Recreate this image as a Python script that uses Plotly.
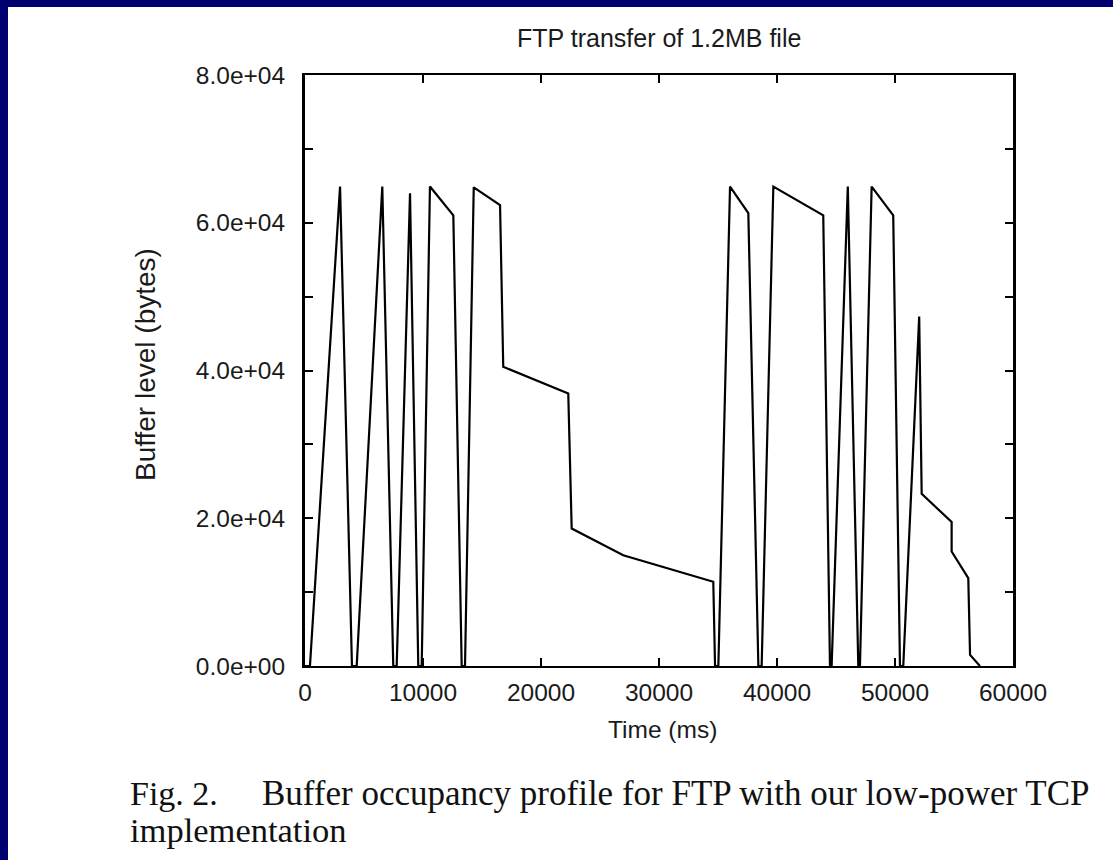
import plotly.graph_objects as go

# ---- data ----
time_ms = [0, 420, 2970, 3980, 4380, 6550, 7480,
           7770, 8900, 9600,
           9890, 10590, 12570, 13280,
           13560, 14300, 16530, 16800, 22310, 22600, 26970, 34600, 34750,
           35030, 36020, 37570, 38420,
           38700, 39690, 43920, 44490,
           44630, 46000, 46890,
           47030, 48020, 49850, 50420,
           50700, 52050, 52260, 54800, 54800, 56210, 56360, 57200]
buffer_bytes = [0, 0, 64900, 0, 0, 64900, 0,
                0, 64000, 0,
                0, 64900, 61000, 0,
                0, 64800, 62400, 40500, 36900, 18600, 15000, 11400, 0,
                0, 64900, 61300, 0,
                0, 64900, 61000, 0,
                0, 64900, 0,
                0, 64900, 61000, 0,
                0, 47300, 23300, 19500, 15500, 11900, 1500, 0]

x_tickvals = [0, 10000, 20000, 30000, 40000, 50000, 60000]
x_ticktext = ["0", "10000", "20000", "30000", "40000", "50000", "60000"]
y_tickvals = [0, 10000, 20000, 30000, 40000, 50000, 60000, 70000, 80000]
y_ticktext = ["0.0e+00", "", "2.0e+04", "", "4.0e+04", "", "6.0e+04", "", "8.0e+04"]

title_text = "FTP transfer of 1.2MB file"
x_title = "Time (ms)"
y_title = "Buffer level (bytes)"
caption_label = "Fig. 2."
caption_line1 = "Buffer occupancy profile for FTP with our low-power TCP"
caption_line2 = "implementation"

# ---- layout geometry (pixels) ----
W, H = 1113, 860
L, R, T, B = 305, 100, 75, 194
PW, PH = W - L - R, H - T - B
NAVY = "#000070"
SANS = "Liberation Sans, Arial, Helvetica, sans-serif"
SERIF = "Liberation Serif, Times New Roman, Times, serif"
TXT = "#1a1a1a"


def px(xpix):
    return (xpix - L) / PW


def py(ypix):
    return (T + PH - ypix) / PH


fig = go.Figure()
fig.add_trace(go.Scatter(x=time_ms, y=buffer_bytes, mode="lines",
                         line=dict(color="black", width=2.2), showlegend=False,
                         hoverinfo="skip"))

axis_common = dict(showgrid=False, zeroline=False, showline=True, linecolor="black",
                   mirror="ticks", ticks="inside", ticklen=8,
                   tickwidth=2, tickcolor="black",
                   tickfont=dict(family=SANS, size=24.5, color=TXT))

fig.update_xaxes(range=[0, 60000], tickmode="array", tickvals=x_tickvals,
                 ticktext=x_ticktext, ticklabelstandoff=4, linewidth=2, **axis_common)
fig.update_yaxes(range=[0, 80000], tickmode="array", tickvals=y_tickvals,
                 ticktext=y_ticktext, ticklabelstandoff=12, linewidth=3, **axis_common)

annotations = [
    dict(text=title_text, x=px(659), y=py(38), xanchor="center", yanchor="middle",
         font=dict(family=SANS, size=25, color=TXT)),
    dict(text=x_title, x=px(662), y=py(729), xanchor="center", yanchor="middle",
         font=dict(family=SANS, size=24.5, color=TXT)),
    dict(text=y_title, x=px(145), y=py(365), xanchor="center", yanchor="middle",
         textangle=-90, font=dict(family=SANS, size=28, color=TXT)),
    dict(text=caption_label, x=px(128), y=py(793), xanchor="left", yanchor="middle",
         font=dict(family=SERIF, size=34, color="#111111")),
    dict(text=caption_line1, x=px(260), y=py(793), xanchor="left", yanchor="middle",
         font=dict(family=SERIF, size=35, color="#111111")),
    dict(text=caption_line2, x=px(128), y=py(830), xanchor="left", yanchor="middle",
         font=dict(family=SERIF, size=34.5, color="#111111")),
]
for a in annotations:
    a.update(xref="paper", yref="paper", showarrow=False)

shapes = [
    # navy frame: top and left strips
    dict(type="rect", xref="paper", yref="paper", x0=px(0), x1=px(W), y0=py(7), y1=py(0),
         fillcolor=NAVY, line=dict(width=0), layer="above"),
    dict(type="rect", xref="paper", yref="paper", x0=px(0), x1=px(8), y0=py(H), y1=py(0),
         fillcolor=NAVY, line=dict(width=0), layer="above"),
]

fig.update_layout(width=W, height=H, autosize=False,
                  margin=dict(l=L, r=R, t=T, b=B, pad=0),
                  paper_bgcolor="white", plot_bgcolor="white",
                  annotations=annotations, shapes=shapes, showlegend=False)

fig.write_html("out.html")
